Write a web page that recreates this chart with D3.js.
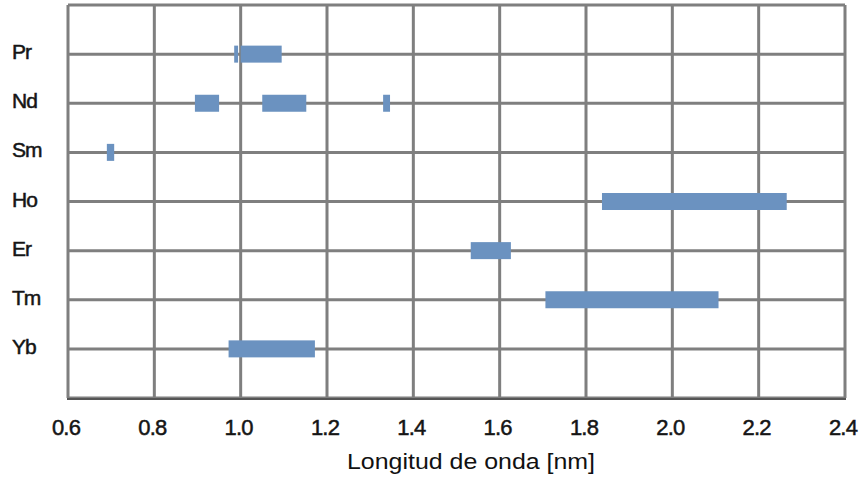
<!DOCTYPE html>
<html><head><meta charset="utf-8">
<script src="https://cdn.jsdelivr.net/npm/d3@7"></script>
<style>body{margin:0;background:#fff}</style>
</head><body>
<svg id="c" width="868" height="478"></svg>
<script>
const elements = ["Pr","Nd","Sm","Ho","Er","Tm","Yb"];
// bands: [element, start, end] in nm (axis units)
const bandElement = ["Pr","Pr","Nd","Nd","Nd","Sm","Ho","Er","Tm","Yb"];
const bandStart   = [0.985,1.0,0.894,1.050,1.330,0.690,1.837,1.533,1.706,0.972];
const bandEnd     = [0.994,1.095,0.950,1.152,1.346,0.707,2.265,1.626,2.107,1.172];
const xTicks = [0.6,0.8,1.0,1.2,1.4,1.6,1.8,2.0,2.2,2.4];
const xTitle = "Longitud de onda [nm]";

const svg = d3.select("#c");
const L=68,R=845,T=5,B=398;
const x = d3.scaleLinear().domain([0.6,2.4]).range([L,R]);
const y = d3.scaleLinear().domain([0,8]).range([T,B]);
const grid="#7f7f7f";
const font="Liberation Sans, Arial, sans-serif";

// grid verticals
svg.append("g").selectAll("line").data(xTicks).join("line")
  .attr("x1",d=>x(d)).attr("x2",d=>x(d)).attr("y1",T).attr("y2",B)
  .attr("stroke",grid).attr("stroke-width",3);
// grid horizontals
svg.append("g").selectAll("line").data(d3.range(0,9)).join("line")
  .attr("x1",L).attr("x2",R).attr("y1",d=>y(d)).attr("y2",d=>y(d))
  .attr("stroke",grid).attr("stroke-width",3);
// bottom darker axis line
svg.append("line").attr("x1",L-1).attr("x2",R+1).attr("y1",B+1).attr("y2",B+1)
  .attr("stroke","#555").attr("stroke-width",2);

// bars
const idx = d3.range(bandElement.length);
svg.append("g").selectAll("rect").data(idx).join("rect")
  .attr("x",i=>x(bandStart[i]))
  .attr("width",i=>x(bandEnd[i])-x(bandStart[i]))
  .attr("y",i=>y(elements.indexOf(bandElement[i])+1)-8.5)
  .attr("height",17)
  .attr("fill","#6b92c0");

// y labels
svg.append("g").selectAll("text").data(elements).join("text")
  .attr("x",12).attr("y",(d,i)=>y(i+1)+5)
  .attr("font-family",font)
  .attr("font-size",21).attr("fill","#151515")
  .attr("stroke","#151515").attr("stroke-width",0.5)
  .attr("letter-spacing","-1")
  .text(d=>d);

// x tick labels
svg.append("g").selectAll("text").data(xTicks).join("text")
  .attr("x",d=>x(d)-2).attr("y",435).attr("text-anchor","middle")
  .attr("font-family",font)
  .attr("font-size",22).attr("fill","#151515")
  .attr("stroke","#151515").attr("stroke-width",0.5)
  .attr("letter-spacing","-0.8")
  .text(d=>d.toFixed(1));

// title
svg.append("text").attr("x",471).attr("y",469).attr("text-anchor","middle")
  .attr("font-family",font)
  .attr("font-size",22).attr("fill","#111")
  .attr("textLength",248).attr("lengthAdjust","spacingAndGlyphs")
  .text(xTitle);
</script>
</body></html>
